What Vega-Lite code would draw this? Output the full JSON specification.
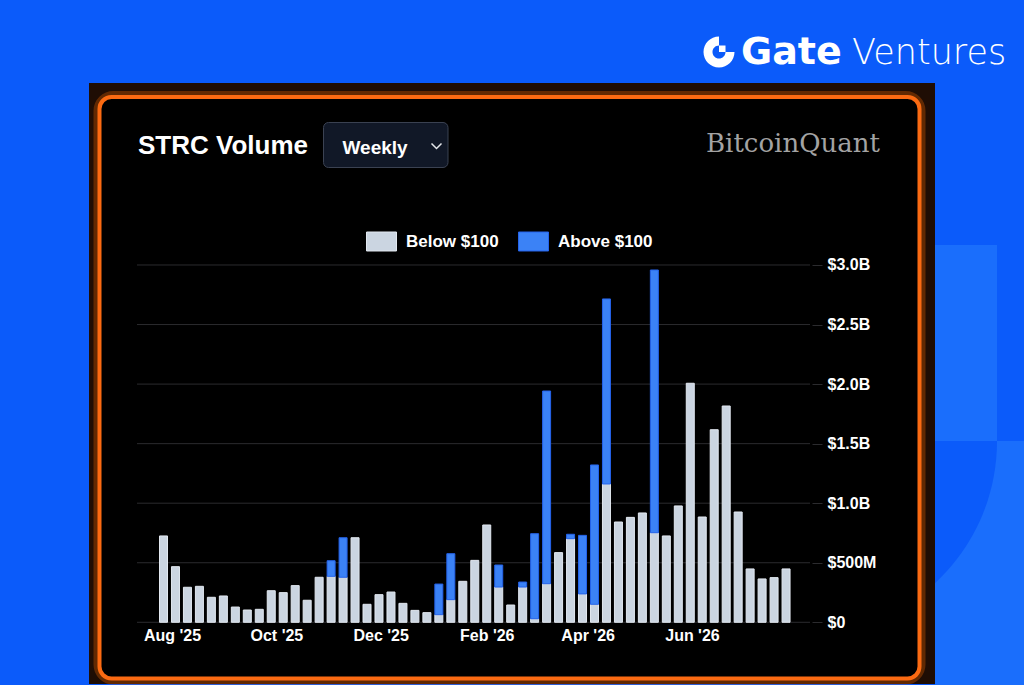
{
  "$schema": "https://vega.github.io/schema/vega-lite/v6.json",
  "width": 846,
  "height": 601,
  "autosize": {"type": "none"},
  "padding": {"left": 89, "top": 83, "right": 89, "bottom": 1},
  "background": "#0b5bfa",
  "config": {"view": {"stroke": null, "fill": "#1f0d04"}, "scale": {"continuousPadding": 0}},
  "resolve": {"axis": {"x": "independent", "y": "independent"}},
  "layer": [
    {
      "data": {"values": [{}]},
      "mark": {"type": "rect", "color": "#1a6efc"},
      "encoding": {
        "x": {"datum": 1792548615000, "type": "temporal", "scale": {"type": "utc", "domain": [1749810849750, 1792548615000], "nice": false, "padding": 0}, "axis": null},
        "x2": {"datum": 1795680697100},
        "y": {"datum": 3.1679, "type": "quantitative", "scale": {"domain": [-0.5181, 4.5281], "nice": false, "zero": false}, "axis": null},
        "y2": {"datum": 1.5222}
      }
    },
    {
      "data": {"values": [{}]},
      "mark": {"type": "rect", "color": "#1a6efc"},
      "encoding": {
        "x": {"datum": 1792548615000, "type": "temporal", "scale": {"type": "utc", "domain": [1749810849750, 1792548615000], "nice": false, "padding": 0}, "axis": null},
        "x2": {"datum": 1797347773000},
        "y": {"datum": 1.5222, "type": "quantitative", "scale": {"domain": [-0.5181, 4.5281], "nice": false, "zero": false}, "axis": null},
        "y2": {"datum": -0.5684}
      }
    },
    {
      "data": {"values": [{}]},
      "mark": {"type": "point", "shape": "M0,0L1,0A1,1 0 0 1 0,1Z", "size": 150544, "filled": true, "color": "#0b5bfa", "opacity": 1, "strokeWidth": 0},
      "encoding": {
        "x": {"datum": 1785880311200, "type": "temporal", "scale": {"type": "utc", "domain": [1749810849750, 1792548615000], "nice": false, "padding": 0}, "axis": null},
        "y": {"datum": 1.5222, "type": "quantitative", "scale": {"domain": [-0.5181, 4.5281], "nice": false, "zero": false}, "axis": null}
      }
    },
    {
      "data": {"values": [{}]},
      "mark": {"type": "rect", "color": "#1f0d04"},
      "encoding": {
        "x": {"datum": 1749810849750, "type": "temporal", "scale": {"type": "utc", "domain": [1749810849750, 1792548615000], "nice": false, "padding": 0}, "axis": null},
        "x2": {"datum": 1792548615000},
        "y": {"datum": 4.5281, "type": "quantitative", "scale": {"domain": [-0.5181, 4.5281], "nice": false, "zero": false}, "axis": null},
        "y2": {"datum": -0.5181}
      }
    },
    {
      "data": {"values": [{}]},
      "mark": {"type": "rect", "fill": null, "filled": false, "stroke": "#ff6a00", "strokeOpacity": 0.3, "strokeWidth": 12, "cornerRadius": 14},
      "encoding": {
        "x": {"datum": 1750341283008, "type": "temporal", "scale": {"type": "utc", "domain": [1749810849750, 1792548615000], "nice": false, "padding": 0}, "axis": null},
        "x2": {"datum": 1791765594468},
        "y": {"datum": 4.4106, "type": "quantitative", "scale": {"domain": [-0.5181, 4.5281], "nice": false, "zero": false}, "axis": null},
        "y2": {"datum": -0.4719}
      }
    },
    {
      "data": {"values": [{}]},
      "mark": {"type": "rect", "fill": "#000000", "stroke": "#fb6a12", "strokeWidth": 4, "cornerRadius": 12},
      "encoding": {
        "x": {"datum": 1750341283008, "type": "temporal", "scale": {"type": "utc", "domain": [1749810849750, 1792548615000], "nice": false, "padding": 0}, "axis": null},
        "x2": {"datum": 1791765594468},
        "y": {"datum": 4.4106, "type": "quantitative", "scale": {"domain": [-0.5181, 4.5281], "nice": false, "zero": false}, "axis": null},
        "y2": {"datum": -0.4719}
      }
    },
    {
      "data": {"values": [{"v": 0}, {"v": 0.5}, {"v": 1}, {"v": 1.5}, {"v": 2}, {"v": 2.5}, {"v": 3}]},
      "mark": {"type": "rule", "color": "#2b2b2e", "strokeWidth": 1},
      "encoding": {
        "x": {"datum": 1752235687495, "type": "temporal", "scale": {"type": "utc", "domain": [1749810849750, 1792548615000], "nice": false, "padding": 0}, "axis": null},
        "x2": {"datum": 1786233933365},
        "y": {"field": "v", "type": "quantitative", "scale": {"domain": [-0.5181, 4.5281], "nice": false, "zero": false}, "axis": null}
      }
    },
    {
      "data": {"values": [
        {"week": "2025-07-27", "series": "Below $100", "value": 0.725},
        {"week": "2025-08-03", "series": "Below $100", "value": 0.467},
        {"week": "2025-08-10", "series": "Below $100", "value": 0.294},
        {"week": "2025-08-17", "series": "Below $100", "value": 0.302},
        {"week": "2025-08-24", "series": "Below $100", "value": 0.210},
        {"week": "2025-08-31", "series": "Below $100", "value": 0.221},
        {"week": "2025-09-07", "series": "Below $100", "value": 0.128},
        {"week": "2025-09-14", "series": "Below $100", "value": 0.103},
        {"week": "2025-09-21", "series": "Below $100", "value": 0.109},
        {"week": "2025-09-28", "series": "Below $100", "value": 0.265},
        {"week": "2025-10-05", "series": "Below $100", "value": 0.249},
        {"week": "2025-10-12", "series": "Below $100", "value": 0.308},
        {"week": "2025-10-19", "series": "Below $100", "value": 0.185},
        {"week": "2025-10-26", "series": "Below $100", "value": 0.378},
        {"week": "2025-11-02", "series": "Below $100", "value": 0.386},
        {"week": "2025-11-02", "series": "Above $100", "value": 0.131},
        {"week": "2025-11-09", "series": "Below $100", "value": 0.378},
        {"week": "2025-11-09", "series": "Above $100", "value": 0.332},
        {"week": "2025-11-16", "series": "Below $100", "value": 0.710},
        {"week": "2025-11-23", "series": "Below $100", "value": 0.151},
        {"week": "2025-11-30", "series": "Below $100", "value": 0.232},
        {"week": "2025-12-07", "series": "Below $100", "value": 0.254},
        {"week": "2025-12-14", "series": "Below $100", "value": 0.159},
        {"week": "2025-12-21", "series": "Below $100", "value": 0.100},
        {"week": "2025-12-28", "series": "Below $100", "value": 0.081},
        {"week": "2026-01-04", "series": "Below $100", "value": 0.064},
        {"week": "2026-01-04", "series": "Above $100", "value": 0.257},
        {"week": "2026-01-11", "series": "Below $100", "value": 0.190},
        {"week": "2026-01-11", "series": "Above $100", "value": 0.386},
        {"week": "2026-01-18", "series": "Below $100", "value": 0.344},
        {"week": "2026-01-25", "series": "Below $100", "value": 0.520},
        {"week": "2026-02-01", "series": "Below $100", "value": 0.817},
        {"week": "2026-02-08", "series": "Below $100", "value": 0.296},
        {"week": "2026-02-08", "series": "Above $100", "value": 0.185},
        {"week": "2026-02-15", "series": "Below $100", "value": 0.145},
        {"week": "2026-02-22", "series": "Below $100", "value": 0.296},
        {"week": "2026-02-22", "series": "Above $100", "value": 0.042},
        {"week": "2026-03-01", "series": "Below $100", "value": 0.030},
        {"week": "2026-03-01", "series": "Above $100", "value": 0.714},
        {"week": "2026-03-08", "series": "Below $100", "value": 0.324},
        {"week": "2026-03-08", "series": "Above $100", "value": 1.618},
        {"week": "2026-03-15", "series": "Below $100", "value": 0.585},
        {"week": "2026-03-22", "series": "Below $100", "value": 0.702},
        {"week": "2026-03-22", "series": "Above $100", "value": 0.037},
        {"week": "2026-03-29", "series": "Below $100", "value": 0.238},
        {"week": "2026-03-29", "series": "Above $100", "value": 0.492},
        {"week": "2026-04-05", "series": "Below $100", "value": 0.151},
        {"week": "2026-04-05", "series": "Above $100", "value": 1.170},
        {"week": "2026-04-12", "series": "Below $100", "value": 1.161},
        {"week": "2026-04-12", "series": "Above $100", "value": 1.554},
        {"week": "2026-04-19", "series": "Below $100", "value": 0.842},
        {"week": "2026-04-26", "series": "Below $100", "value": 0.881},
        {"week": "2026-05-03", "series": "Below $100", "value": 0.918},
        {"week": "2026-05-10", "series": "Below $100", "value": 0.752},
        {"week": "2026-05-10", "series": "Above $100", "value": 2.206},
        {"week": "2026-05-17", "series": "Below $100", "value": 0.725},
        {"week": "2026-05-24", "series": "Below $100", "value": 0.977},
        {"week": "2026-05-31", "series": "Below $100", "value": 2.007},
        {"week": "2026-06-07", "series": "Below $100", "value": 0.884},
        {"week": "2026-06-14", "series": "Below $100", "value": 1.617},
        {"week": "2026-06-21", "series": "Below $100", "value": 1.816},
        {"week": "2026-06-28", "series": "Below $100", "value": 0.926},
        {"week": "2026-07-05", "series": "Below $100", "value": 0.448},
        {"week": "2026-07-12", "series": "Below $100", "value": 0.364},
        {"week": "2026-07-19", "series": "Below $100", "value": 0.375},
        {"week": "2026-07-26", "series": "Below $100", "value": 0.448}
      ]},
      "mark": {"type": "bar", "size": 8, "strokeWidth": 1},
      "encoding": {
        "x": {
          "field": "week", "type": "temporal",
          "scale": {"type": "utc", "domain": [1749810849750, 1792548615000], "nice": false, "padding": 0},
          "axis": {
            "orient": "bottom", "offset": -62, "title": null, "zindex": 2,
            "values": [1754006400000, 1759276800000, 1764547200000, 1769904000000, 1775001600000, 1780272000000],
            "format": "%b '%y", "domain": false, "ticks": false, "tickSize": 0, "grid": false,
            "labelPadding": 5, "labelColor": "#ffffff", "labelFont": "Liberation Sans", "labelFontSize": 16, "labelFontWeight": "bold",
            "labelOverlap": false, "labelFlush": false
          }
        },
        "y": {
          "field": "value", "type": "quantitative", "stack": "zero",
          "scale": {"domain": [-0.5181, 4.5281], "nice": false, "zero": false},
          "axis": {
            "orient": "right", "offset": -123, "title": null, "zindex": 2,
            "values": [0, 0.5, 1, 1.5, 2, 2.5, 3],
            "domain": false, "grid": false, "ticks": true, "tickSize": 10, "tickColor": "#2b2b2e",
            "labelPadding": 5, "labelColor": "#ffffff", "labelFont": "Liberation Sans", "labelFontSize": 16, "labelFontWeight": "bold",
            "labelExpr": "datum.value == 0 ? '$0' : (datum.value < 1 ? '$' + format(datum.value * 1000, 'd') + 'M' : '$' + format(datum.value, '.1f') + 'B')"
          }
        },
        "color": {
          "field": "series", "type": "nominal",
          "scale": {"domain": ["Below $100", "Above $100"], "range": ["#cbd5e1", "#3b82f6"]},
          "legend": {"orient": "none", "legendX": 277, "legendY": 143, "direction": "horizontal", "title": null,
            "symbolType": "M-1,-0.633H1V0.633H-1Z", "symbolSize": 900, "symbolStrokeWidth": 1, "symbolOpacity": 1,
            "labelColor": "#ffffff", "labelFont": "Liberation Sans", "labelFontSize": 17, "labelFontWeight": "bold",
            "labelOffset": 9, "columnPadding": 17, "padding": 0}
        },
        "stroke": {
          "field": "series", "type": "nominal",
          "scale": {"domain": ["Below $100", "Above $100"], "range": ["#e2e8f0", "#2563eb"]},
          "legend": {"orient": "none", "legendX": 277, "legendY": 143, "direction": "horizontal", "title": null,
            "symbolType": "M-1,-0.633H1V0.633H-1Z", "symbolSize": 900, "symbolStrokeWidth": 1, "symbolOpacity": 1,
            "labelColor": "#ffffff", "labelFont": "Liberation Sans", "labelFontSize": 17, "labelFontWeight": "bold",
            "labelOffset": 9, "columnPadding": 17, "padding": 0}
        },
        "order": {"field": "series", "sort": "descending"}
      }
    },
    {
      "data": {"values": [{}]},
      "mark": {"type": "rect", "fill": "#111827", "stroke": "#3b4252", "strokeWidth": 1, "cornerRadius": 5},
      "encoding": {
        "x": {"datum": 1761657192480, "type": "temporal", "scale": {"type": "utc", "domain": [1749810849750, 1792548615000], "nice": false, "padding": 0}, "axis": null},
        "x2": {"datum": 1767946615379},
        "y": {"datum": 4.1965, "type": "quantitative", "scale": {"domain": [-0.5181, 4.5281], "nice": false, "zero": false}, "axis": null},
        "y2": {"datum": 3.8186}
      }
    },
    {
      "data": {"values": [{}]},
      "mark": {"type": "text", "text": "STRC Volume", "font": "Liberation Sans", "fontSize": 26, "fontWeight": "bold", "color": "#ffffff", "align": "left", "baseline": "alphabetic"},
      "encoding": {
        "x": {"datum": 1752286204948, "type": "temporal", "scale": {"type": "utc", "domain": [1749810849750, 1792548615000], "nice": false, "padding": 0}, "axis": null},
        "y": {"datum": 3.9295, "type": "quantitative", "scale": {"domain": [-0.5181, 4.5281], "nice": false, "zero": false}, "axis": null}
      }
    },
    {
      "data": {"values": [{}]},
      "mark": {"type": "text", "text": "Weekly", "font": "Liberation Sans", "fontSize": 19, "fontWeight": "bold", "color": "#ffffff", "align": "left", "baseline": "alphabetic"},
      "encoding": {
        "x": {"datum": 1762617024087, "type": "temporal", "scale": {"type": "utc", "domain": [1749810849750, 1792548615000], "nice": false, "padding": 0}, "axis": null},
        "y": {"datum": 3.932, "type": "quantitative", "scale": {"domain": [-0.5181, 4.5281], "nice": false, "zero": false}, "axis": null}
      }
    },
    {
      "data": {"values": [{}]},
      "mark": {"type": "point", "shape": "M-1,-0.5L0,0.5L1,-0.5", "size": 100, "filled": false, "color": "#e5e7eb", "strokeWidth": 1.5, "opacity": 1},
      "encoding": {
        "x": {"datum": 1767365664669, "type": "temporal", "scale": {"type": "utc", "domain": [1749810849750, 1792548615000], "nice": false, "padding": 0}, "axis": null},
        "y": {"datum": 3.9992, "type": "quantitative", "scale": {"domain": [-0.5181, 4.5281], "nice": false, "zero": false}, "axis": null}
      }
    },
    {
      "data": {"values": [{}]},
      "mark": {"type": "text", "text": "BitcoinQuant", "font": "DejaVu Serif", "fontSize": 26, "color": "#a3a3a3", "align": "left", "baseline": "alphabetic"},
      "encoding": {
        "x": {"datum": 1780980118253, "type": "temporal", "scale": {"type": "utc", "domain": [1749810849750, 1792548615000], "nice": false, "padding": 0}, "axis": null},
        "y": {"datum": 3.9488, "type": "quantitative", "scale": {"domain": [-0.5181, 4.5281], "nice": false, "zero": false}, "axis": null}
      }
    },
    {
      "data": {"values": [{}]},
      "mark": {"type": "point", "shape": "M1,0A1,1 0 1 1 0,-1L0,-0.42A0.42,0.42 0 1 0 0.42,0ZM0,0H0.42V-0.42H0Z", "size": 961, "filled": true, "color": "#ffffff", "opacity": 1, "strokeWidth": 0},
      "encoding": {
        "x": {"datum": 1781636845142, "type": "temporal", "scale": {"type": "utc", "domain": [1749810849750, 1792548615000], "nice": false, "padding": 0}, "axis": null},
        "y": {"datum": 4.7884, "type": "quantitative", "scale": {"domain": [-0.5181, 4.5281], "nice": false, "zero": false}, "axis": null}
      }
    },
    {
      "data": {"values": [{}]},
      "mark": {"type": "text", "text": "Gate", "font": "DejaVu Sans", "fontSize": 38, "fontWeight": "bold", "color": "#ffffff", "align": "left", "baseline": "alphabetic"},
      "encoding": {
        "x": {"datum": 1782748229108, "type": "temporal", "scale": {"type": "utc", "domain": [1749810849750, 1792548615000], "nice": false, "padding": 0}, "axis": null},
        "y": {"datum": 4.6835, "type": "quantitative", "scale": {"domain": [-0.5181, 4.5281], "nice": false, "zero": false}, "axis": null}
      }
    },
    {
      "data": {"values": [{}]},
      "mark": {"type": "text", "text": "Ventures", "font": "DejaVu Sans", "fontSize": 35, "fontWeight": 300, "color": "#ffffff", "align": "left", "baseline": "alphabetic"},
      "encoding": {
        "x": {"datum": 1788355666391, "type": "temporal", "scale": {"type": "utc", "domain": [1749810849750, 1792548615000], "nice": false, "padding": 0}, "axis": null},
        "y": {"datum": 4.6835, "type": "quantitative", "scale": {"domain": [-0.5181, 4.5281], "nice": false, "zero": false}, "axis": null}
      }
    }
  ]
}
